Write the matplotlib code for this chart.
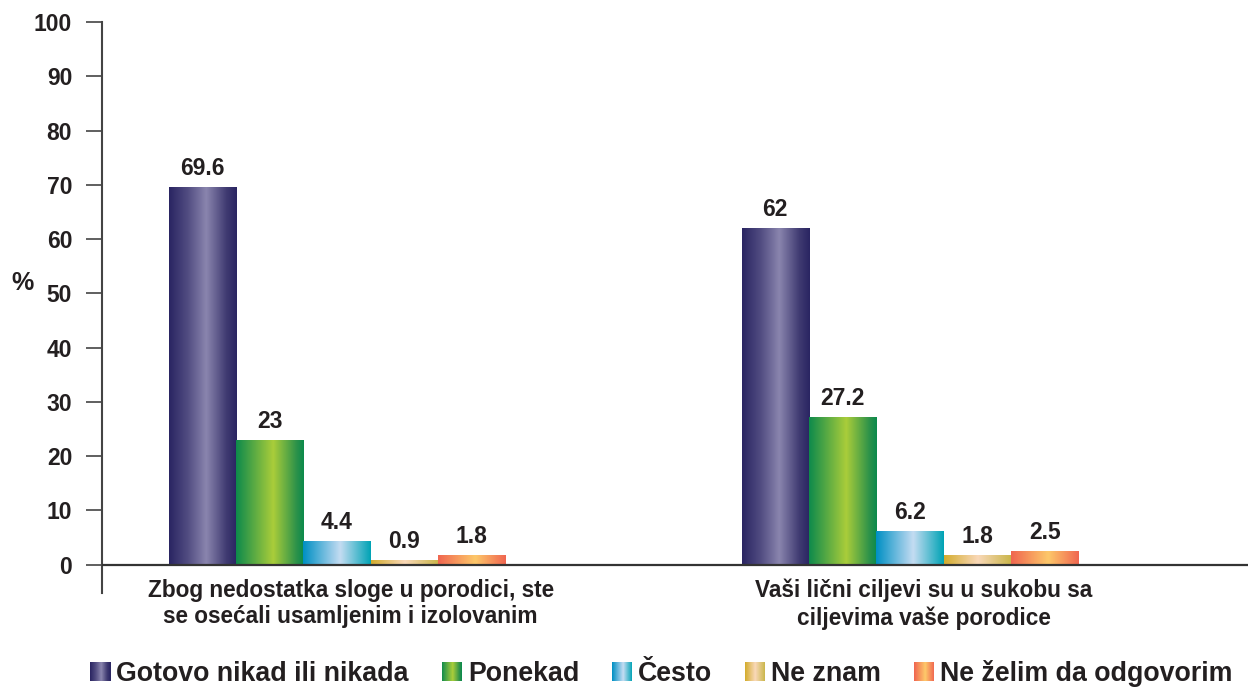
import matplotlib
matplotlib.use('Agg')
import matplotlib.pyplot as plt
import numpy as np
from matplotlib.colors import LinearSegmentedColormap
from matplotlib.patches import Rectangle, Patch
from matplotlib.legend_handler import HandlerBase

categories = ["Zbog nedostatka sloge u porodici, ste\nse osećali usamljenim i izolovanim",
              "Vaši lični ciljevi su u sukobu sa\nciljevima vaše porodice"]
series = ["Gotovo nikad ili nikada", "Ponekad", "Često", "Ne znam", "Ne želim da odgovorim"]
values = [
    [69.6, 62],
    [23, 27.2],
    [4.4, 6.2],
    [0.9, 1.8],
    [1.8, 2.5],
]
labels = [
    ["69.6", "62"],
    ["23", "27.2"],
    ["4.4", "6.2"],
    ["0.9", "1.8"],
    ["1.8", "2.5"],
]
yticks = list(range(0, 101, 10))

gradients = [
    [(0, '#2A2562'), (0.28, '#524D82'), (0.55, '#8A85AE'), (0.85, '#3F3A71'), (1, '#2A2562')],
    [(0, '#0E8A4C'), (0.55, '#AACD3A'), (0.9, '#2A914A'), (1, '#0C8A4C')],
    [(0, '#0090C4'), (0.55, '#C4DCF2'), (1, '#00A3B5')],
    [(0, '#D3AC2E'), (0.5, '#F9D8B8'), (1, '#C9B548')],
    [(0, '#F06650'), (0.55, '#FDC86A'), (1, '#F06650')],
]
cmaps = [LinearSegmentedColormap.from_list('g%d' % i, g) for i, g in enumerate(gradients)]

TXT = '#231F20'
plt.rcParams['font.family'] = ['Liberation Sans', 'DejaVu Sans']
plt.rcParams['font.weight'] = 'bold'

fig = plt.figure(figsize=(12.48, 6.87), dpi=100)
ax = fig.add_axes([102 / 1248, 1 - 593 / 687, 1146 / 1248, 571 / 687])

width = 0.1175
shift = -0.09
grad = np.linspace(0, 1, 200)[None, :]
for s in range(len(series)):
    for c in range(len(categories)):
        x0 = c + shift + (s - 2) * width - width / 2
        h = values[s][c]
        ax.imshow(cmaps[s](grad), extent=(x0, x0 + width, 0, h), aspect='auto',
                  interpolation='bilinear', zorder=2)
        ax.annotate(labels[s][c], (x0 + width / 2, h), xytext=(0, 5), textcoords='offset points',
                    ha='center', va='bottom', fontsize=16.5, fontweight='bold', color=TXT)

for c, cat in enumerate(categories):
    ax.text(c - 0.066, -2.6, cat, ha='center', va='top', fontsize=16.3, fontweight='bold',
            color=TXT, linespacing=1.2, clip_on=False)

ax.set_xlim(-0.5, 1.5)
ax.set_ylim(-5.2, 100)
ax.axhline(0, color='#333333', lw=1.6, zorder=3)
ax.set_yticks(yticks)
ax.set_yticklabels([str(t) for t in yticks], fontsize=16.5, fontweight='bold', color=TXT)
ax.tick_params(axis='y', length=11.5, width=1.2, color='#444444', pad=10)
ax.set_xticks([])
for sp in ['top', 'right', 'bottom']:
    ax.spines[sp].set_visible(False)
ax.spines['left'].set_color('#444444')
ax.spines['left'].set_linewidth(1.5)

fig.text(22 / 1248, 1 - 283 / 687, '%', ha='center', va='center', fontsize=18,
         fontweight='bold', color=TXT)


class GradientHandler(HandlerBase):
    def __init__(self, cmap):
        super().__init__()
        self.cmap = cmap

    def create_artists(self, legend, orig_handle, xdescent, ydescent, width, height, fontsize, trans):
        n = 40
        arts = []
        for k in range(n):
            arts.append(Rectangle((-xdescent + width * k / n, -ydescent), width / n * 1.1, height,
                                  facecolor=self.cmap((k + 0.5) / n), edgecolor='none', transform=trans))
        return arts


handles = [Patch() for _ in series]
hmap = {h: GradientHandler(cm) for h, cm in zip(handles, cmaps)}
fig.legend(handles, series, handler_map=hmap, loc='lower center', bbox_to_anchor=(0.53, -0.035),
           ncol=5, frameon=False, prop={'size': 19.3, 'weight': 'bold'},
           handlelength=0.75, handleheight=0.75, handletextpad=0.22, columnspacing=1.23,
           labelcolor=TXT)

fig.savefig('out.png', dpi=100)
